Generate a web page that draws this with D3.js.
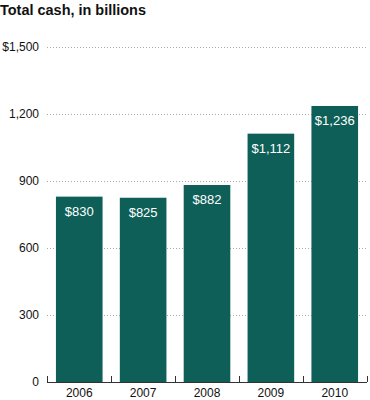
<!DOCTYPE html>
<html>
<head>
<meta charset="utf-8">
<script src="https://d3js.org/d3.v7.min.js"></script>
<style>
  body { margin: 0; background: #fff; }
  svg text { font-family: "Liberation Sans", Arial, Helvetica, sans-serif; }
</style>
</head>
<body>
<svg width="370" height="400"></svg>
<script>
var years = ["2006", "2007", "2008", "2009", "2010"];
var cash = [830, 825, 882, 1112, 1236];
var yTicks = [0, 300, 600, 900, 1200, 1500];

var svg = d3.select("svg"),
    margin = {top: 47, right: 3, bottom: 18, left: 47},
    width = +svg.attr("width") - margin.left - margin.right,
    height = +svg.attr("height") - margin.top - margin.bottom;

var x = d3.scaleBand().domain(years).range([0, width]).paddingInner(0.27).paddingOuter(0.14),
    y = d3.scaleLinear().domain([0, 1500]).range([height, 0]);

var data = years.map(function(d, i) { return {year: d, value: cash[i]}; });

svg.append("text")
    .attr("x", 0)
    .attr("y", 15)
    .attr("font-size", "15px")
    .attr("font-weight", "bold")
    .attr("fill", "#111")
    .attr("textLength", 146)
    .attr("lengthAdjust", "spacingAndGlyphs")
    .text("Total cash, in billions");

var g = svg.append("g")
    .attr("transform", "translate(" + margin.left + "," + margin.top + ")");

// dotted gridlines
g.selectAll(".grid")
  .data(yTicks.slice(1))
  .enter().append("line")
    .attr("x1", 0)
    .attr("x2", width)
    .attr("y1", function(d) { return Math.round(y(d)) + 0.5; })
    .attr("y2", function(d) { return Math.round(y(d)) + 0.5; })
    .attr("stroke", "#aaa")
    .attr("stroke-width", 1)
    .attr("stroke-dasharray", "1,2");

g.selectAll(".ylab")
  .data(yTicks)
  .enter().append("text")
    .attr("x", -8)
    .attr("y", function(d) { return y(d); })
    .attr("dy", "0.35em")
    .attr("text-anchor", "end")
    .attr("font-size", "12px")
    .attr("fill", "#111")
    .text(function(d) { return d === 1500 ? "$" + d3.format(",")(d) : d3.format(",")(d); });

g.selectAll(".bar")
  .data(data)
  .enter().append("rect")
    .attr("x", function(d) { return x(d.year); })
    .attr("y", function(d) { return y(d.value); })
    .attr("width", x.bandwidth())
    .attr("height", function(d) { return height - y(d.value); })
    .attr("fill", "#0e5f58");

g.selectAll(".val")
  .data(data)
  .enter().append("text")
    .attr("x", function(d) { return x(d.year) + x.bandwidth() / 2; })
    .attr("y", function(d) { return y(d.value) + 19; })
    .attr("text-anchor", "middle")
    .attr("font-size", "13px")
    .attr("fill", "#fff")
    .text(function(d) { return "$" + d3.format(",")(d.value); });

// baseline axis with ticks between bars
g.append("line")
    .attr("x1", 0).attr("x2", width)
    .attr("y1", height + 0.5).attr("y2", height + 0.5)
    .attr("stroke", "#333");

var step = x.step();
var boundaries = [0].concat(years.map(function(d) { return x(d) - x.paddingInner() * step / 2 + step; }));
g.selectAll(".sep")
  .data(boundaries)
  .enter().append("line")
    .attr("x1", function(d) { return Math.round(d) + 0.5; })
    .attr("x2", function(d) { return Math.round(d) + 0.5; })
    .attr("y1", height - 6)
    .attr("y2", height)
    .attr("stroke", "#333");

g.selectAll(".xlab")
  .data(years)
  .enter().append("text")
    .attr("x", function(d) { return x(d) + x.bandwidth() / 2; })
    .attr("y", height + 15)
    .attr("text-anchor", "middle")
    .attr("font-size", "12px")
    .attr("fill", "#111")
    .text(function(d) { return d; });
</script>
</body>
</html>
